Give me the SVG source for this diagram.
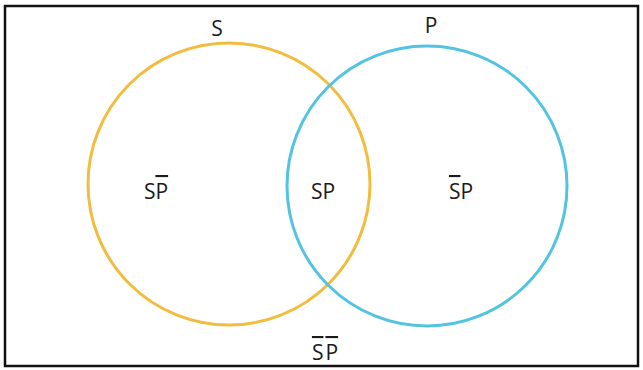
<svg xmlns="http://www.w3.org/2000/svg" width="643" height="370" viewBox="0 0 643 370">
<style>
.lbl{font-family:"Open Sans","Liberation Sans",sans-serif;font-size:21px;fill:#1a1a1a;text-anchor:middle}
.ol{text-decoration:overline}
.c{fill:none;stroke-width:3}
</style>
<rect x="0" y="0" width="643" height="370" fill="#ffffff"/>
<rect x="5" y="6" width="633" height="360" fill="none" stroke="#111" stroke-width="2.5"/>
<g id="setS">
<circle class="c" cx="229" cy="184" r="141" stroke="#F2BD3E"/>
<text class="lbl" x="217" y="36">S</text>
</g>
<g id="setP">
<circle class="c" cx="427" cy="186" r="140" stroke="#52C4E2"/>
<text class="lbl" x="431" y="33">P</text>
</g>
<g id="regionSnotP"><text class="lbl" x="156" y="199">S<tspan class="ol">P</tspan></text></g>
<g id="regionSP"><text class="lbl" x="323" y="199">SP</text></g>
<g id="regionnotSP"><text class="lbl" x="461" y="199"><tspan class="ol">S</tspan>P</text></g>
<g id="regionnotSnotP"><text class="lbl" x="325" y="360"><tspan class="ol">S</tspan><tspan class="ol" dx="2">P</tspan></text></g>
</svg>
